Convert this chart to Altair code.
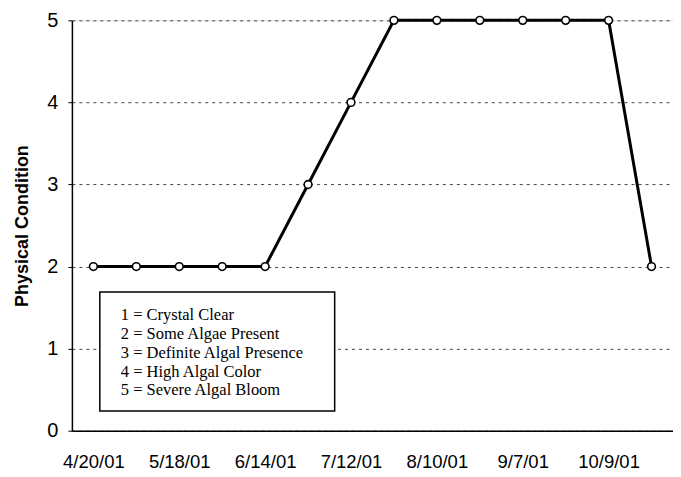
import altair as alt
import pandas as pd

dates = ["4/20/01", "5/4/01", "5/18/01", "6/1/01", "6/14/01", "6/28/01", "7/12/01",
         "7/26/01", "8/10/01", "8/24/01", "9/7/01", "9/21/01", "10/9/01", "10/23/01"]
condition = [2, 2, 2, 2, 2, 3, 4, 5, 5, 5, 5, 5, 5, 2]

legend_lines = ["1 = Crystal Clear", "2 = Some Algae Present", "3 = Definite Algal Presence",
                "4 = High Algal Color", "5 = Severe Algal Bloom"]
legend_y = [1.41, 1.18, 0.95, 0.72, 0.49]

df = pd.DataFrame({"idx": list(range(len(dates))), "date": dates, "cond": condition})
label_expr = "{" + ",".join(f"'{i}':'{d}'" for i, d in enumerate(dates)) + "}[datum.value]"

xscale = alt.Scale(domain=[-0.5, len(dates) - 0.5], nice=False, zero=False)
yscale = alt.Scale(domain=[0, 5], nice=False)

base = alt.Chart(df)

x_enc = alt.X("idx:Q", scale=xscale, title=None,
              axis=alt.Axis(values=list(range(0, 14, 2)), labelExpr=label_expr,
                            grid=False, ticks=False, labelFontSize=18.5, labelFont="Arial",
                            labelColor="black", labelPadding=22, domainColor="black",
                            domainWidth=1.5))
y_enc = alt.Y("cond:Q", scale=yscale, title="Physical Condition",
              axis=alt.Axis(values=[0, 1, 2, 3, 4, 5], format="d", grid=True, gridDash=[3, 4],
                            gridColor="#444", gridWidth=1, tickSize=4, tickColor="black",
                            labelFontSize=20, labelFont="Arial", labelColor="black",
                            labelPadding=10, domainColor="black", domainWidth=1.5,
                            titleFont="Arial", titleFontSize=18, titleFontWeight="bold",
                            titleColor="black", titlePadding=15))

line = base.mark_line(color="black", strokeWidth=3).encode(x=x_enc, y=y_enc)
pts = base.mark_point(shape="circle", filled=True, fill="white", stroke="black",
                      strokeWidth=1.6, size=60, opacity=1).encode(x="idx:Q", y="cond:Q")

box_df = pd.DataFrame({"x1": [0.15], "x2": [5.62], "y1": [0.24], "y2": [1.69]})
box = alt.Chart(box_df).mark_rect(fill="white", stroke="black", strokeWidth=1.5).encode(
    x="x1:Q", x2="x2:Q", y="y1:Q", y2="y2:Q")

txt_df = pd.DataFrame({"t": legend_lines, "y": legend_y, "x": [0.64] * 5})
txt = alt.Chart(txt_df).mark_text(align="left", baseline="middle", font="Liberation Serif",
                                  fontSize=16.5, color="black").encode(x="x:Q", y="y:Q", text="t:N")

chart = alt.layer(line, pts, box, txt).properties(
    width=602, height=411,
    autosize=alt.AutoSizeParams(type="none"),
    padding={"left": 64, "top": 12, "right": 0, "bottom": 40},
).configure_view(stroke="#777", strokeDash=[2, 2], strokeWidth=1).configure(background="white")

chart.save("out.html", embed_options={"renderer": "svg", "actions": False})
